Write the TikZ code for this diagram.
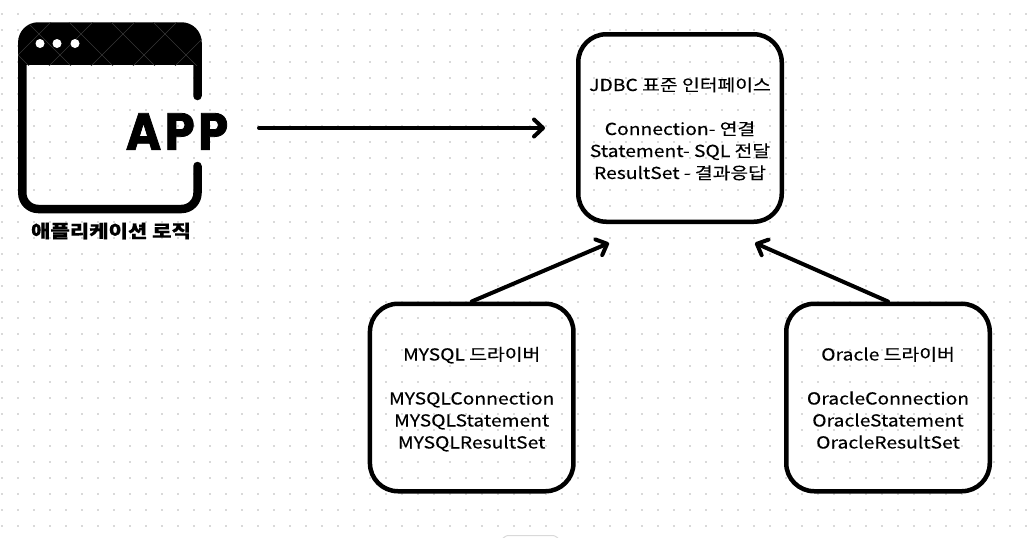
\documentclass[tikz,border=0pt]{standalone}
\usepackage{fontspec}
\setmainfont[FakeStretch=1.17,FakeBold=0.3]{Noto Sans CJK KR}
\newfontfamily\appfont[FakeStretch=0.92,FakeBold=1.5,LetterSpace=7]{Poppins Bold}
\usetikzlibrary{arrows.meta}
\newcommand{\cardtop}{\rule{0pt}{20pt}}
\newcommand{\cardbottom}{\rule[-6pt]{0pt}{6pt}}
\tikzstyle{card}=[draw, line width=4.5pt, rounded corners=28pt, minimum width=203.5pt, minimum height=187.5pt, inner sep=0, align=center, font=\fontsize{16.5}{22}\selectfont]
\tikzstyle{link}=[line width=4pt, line cap=round, -{Straight Barb[round, length=9pt, width=17pt, line width=4pt]}]
\tikzstyle{griddot}=[fill=black!15]
\tikzstyle{iconline}=[line width=8.5pt, line cap=round, rounded corners=16pt]
\begin{document}
\begin{tikzpicture}[x=1pt, y=-1pt]
    \useasboundingbox (0,0) rectangle (1031,538);
    \fill[white] (0,0) rectangle (1031,538);
    % dotted page
    \foreach \i in {0,...,64} {
        \foreach \j in {0,...,32} {
            \fill[griddot] ({1+16*\i},{12.5+16*\j}) rectangle ++(2,2);
        }
    }
    % window icon
    \fill[rounded corners=16pt] (22.3,26.5) rectangle (197.5,60);
    \fill (22.3,45) rectangle (197.5,65);
    \draw[iconline] (197.5,96) |- (22.3,26.5) |- (197.5,209) -- (197.5,166);
    \begin{scope}
        \clip[rounded corners=20pt] (18,22) rectangle (202,120);
        \clip (18,22) rectangle (202,65);
        \foreach \k in {-3,...,6} {
            \draw[black!78, line width=0.4pt] ({60+42*\k-40},15) -- ++(60,60);
            \draw[black!78, line width=0.4pt] ({60+42*\k+40},15) -- ++(-60,60);
        }
    \end{scope}
    \foreach \x in {40,57,75} {
        \fill[white] (\x,43.5) circle (4.5);
    }
    \node[inner sep=0, font=\appfont\fontsize{52}{52}\selectfont] (app) at (177,131.5) {APP};
    \node[inner sep=0, font=\bfseries\fontsize{18}{20}\selectfont] (logic) at (111,231) {애플리케이션 로직};
    % boxes
    \node[card] (jdbc) at (680,128) {\cardtop JDBC 표준 인터페이스\\ \\Connection- 연결\\Statement- SQL 전달\\\cardbottom ResultSet - 결과응답};
    \node[card] (mysql) at (471.7,397.5) {\cardtop MYSQL 드라이버\\ \\MYSQLConnection\\MYSQLStatement\\\cardbottom MYSQLResultSet};
    \node[card] (oracle) at (888,397.5) {\cardtop Oracle 드라이버\\ \\OracleConnection\\OracleStatement\\\cardbottom OracleResultSet};
    % arrows
    \coordinate (appout) at (259,128);
    \coordinate (jdbcin) at (545,128);
    \coordinate (jdbcleft) at (609,243);
    \coordinate (jdbcright) at (755,243);
    \draw[link] (appout) -- (jdbcin);
    \draw[link] (mysql.north) -- (jdbcleft);
    \draw[link] (oracle.north) -- (jdbcright);
    % cut off at the lower edge
    \draw[black!15, line width=1pt] (503,538) .. controls (506,535.5) .. (513,535.5) -- (548,535.5) .. controls (555,535.5) .. (558,538);
\end{tikzpicture}
\end{document}
